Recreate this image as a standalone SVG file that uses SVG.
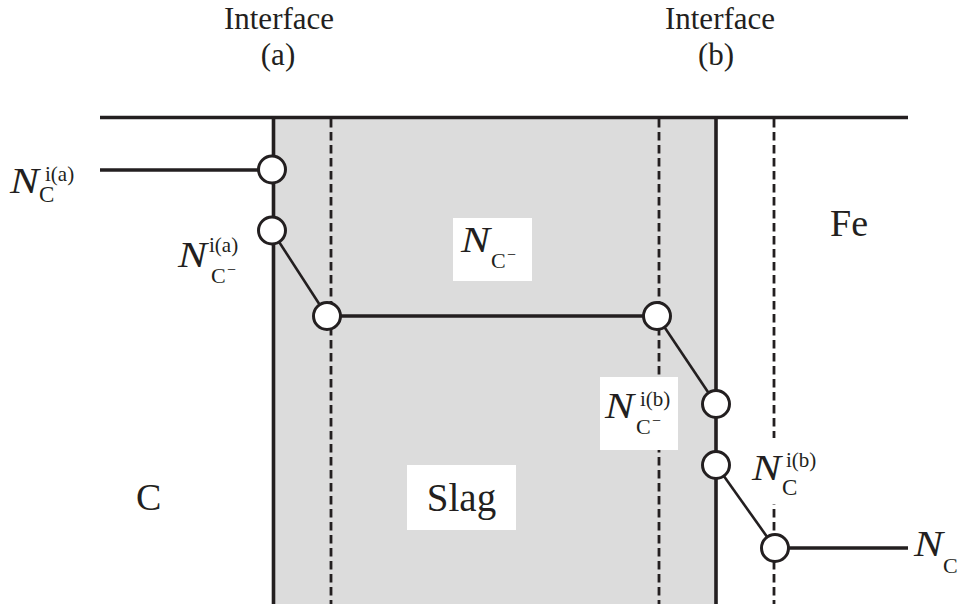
<svg xmlns="http://www.w3.org/2000/svg" width="959" height="604" viewBox="0 0 959 604">
<style>
.ln{stroke:#231f20;fill:none;stroke-linecap:butt}
.thick{stroke-width:3.6}
.thin{stroke-width:2.6}
.dash{stroke-width:2.8;stroke-dasharray:8.5 4.5}
.pt{fill:#fff;stroke:#231f20;stroke-width:3}
.t{font-family:"Liberation Serif","Times New Roman",serif;fill:#231f20}
.n{font-style:italic;font-size:35px}
.box{fill:#fff}
</style>
<rect width="959" height="604" fill="#fff"/>
<g id="slag-region">
<rect x="274" y="118" width="442" height="486" fill="#dcdcdc"/>
</g>
<g id="connectors">
<line class="ln thick" x1="100" y1="117.5" x2="908" y2="117.5"/>
<line class="ln thick" x1="273.5" y1="116" x2="273.5" y2="604"/>
<line class="ln thick" x1="716" y1="116" x2="716" y2="604"/>
<line class="ln dash" x1="331" y1="119" x2="331" y2="604"/>
<line class="ln dash" x1="659" y1="119" x2="659" y2="604"/>
<line class="ln dash" x1="774" y1="119" x2="774" y2="604"/>
<line class="ln thick" x1="100" y1="170" x2="272" y2="170"/>
<line class="ln thin" x1="272" y1="231" x2="327" y2="316"/>
<line class="ln thick" x1="327" y1="316" x2="657" y2="316"/>
<line class="ln thin" x1="657" y1="316" x2="716" y2="404"/>
<line class="ln thin" x1="716" y1="465" x2="775" y2="548"/>
<line class="ln thick" x1="775" y1="548" x2="908" y2="548"/>
</g>
<g id="node-ia-C"><circle class="pt" cx="272" cy="169.5" r="13.5"/></g>
<g id="node-ia-Cm"><circle class="pt" cx="272" cy="230.5" r="13.5"/></g>
<g id="node-slag-a"><circle class="pt" cx="327" cy="316" r="13.5"/></g>
<g id="node-slag-b"><circle class="pt" cx="657" cy="316" r="13.5"/></g>
<g id="node-ib-Cm"><circle class="pt" cx="716" cy="404" r="13.5"/></g>
<g id="node-ib-C"><circle class="pt" cx="716" cy="465" r="13.5"/></g>
<g id="node-fe"><circle class="pt" cx="775" cy="548" r="13.5"/></g>
<g id="label-interface-a">
<text class="t" x="279" y="29" font-size="31" text-anchor="middle">Interface</text>
<text class="t" x="278" y="65" font-size="31" text-anchor="middle">(a)</text>
</g>
<g id="label-interface-b">
<text class="t" x="720" y="29" font-size="31" text-anchor="middle">Interface</text>
<text class="t" x="716" y="65" font-size="31" text-anchor="middle">(b)</text>
</g>
<g id="label-NC-ia">
<text class="t n" x="10" y="193" textLength="29" lengthAdjust="spacingAndGlyphs">N</text>
<text class="t" x="45" y="181" font-size="21">i(a)</text>
<text class="t" x="39" y="202" font-size="23">C</text>
</g>
<g id="label-NCm-ia">
<text class="t n" x="178" y="267" textLength="29" lengthAdjust="spacingAndGlyphs">N</text>
<text class="t" x="209" y="252" font-size="21">i(a)</text>
<text class="t" x="211" y="283" font-size="22">C</text>
<text class="t" x="227" y="275" font-size="16">−</text>
</g>
<g id="label-NCm">
<rect class="box" x="453" y="218" width="79" height="63"/>
<text class="t n" x="461" y="252" textLength="29" lengthAdjust="spacingAndGlyphs">N</text>
<text class="t" x="491" y="268" font-size="22">C</text>
<text class="t" x="507" y="260" font-size="16">−</text>
</g>
<g id="label-NCm-ib">
<rect class="box" x="600" y="377" width="78" height="73"/>
<text class="t n" x="605" y="418" textLength="29" lengthAdjust="spacingAndGlyphs">N</text>
<text class="t" x="640" y="406" font-size="21">i(b)</text>
<text class="t" x="636" y="434" font-size="22">C</text>
<text class="t" x="652" y="426" font-size="16">−</text>
</g>
<g id="label-NC-ib">
<rect class="box" x="750" y="438" width="66" height="66"/>
<text class="t n" x="752" y="480" textLength="29" lengthAdjust="spacingAndGlyphs">N</text>
<text class="t" x="786" y="467" font-size="21">i(b)</text>
<text class="t" x="782" y="495" font-size="23">C</text>
</g>
<g id="label-NC">
<text class="t n" x="914" y="556" textLength="29" lengthAdjust="spacingAndGlyphs">N</text>
<text class="t" x="943" y="573" font-size="22">C</text>
</g>
<g id="label-Fe"><text class="t" x="830" y="236" font-size="38">Fe</text></g>
<g id="label-C"><text class="t" x="136" y="510" font-size="38">C</text></g>
<g id="label-slag">
<rect class="box" x="407" y="465" width="109" height="65"/>
<text class="t" x="461.5" y="511" font-size="39" text-anchor="middle">Slag</text>
</g>
</svg>
